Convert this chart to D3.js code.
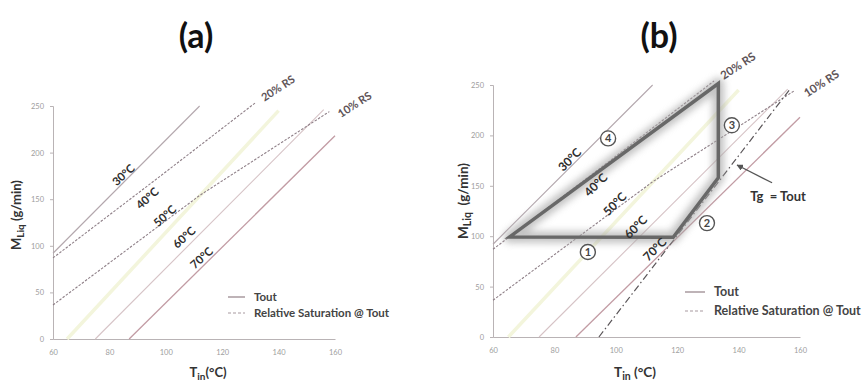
<!DOCTYPE html>
<html>
<head>
<meta charset="utf-8">
<script src="https://cdn.jsdelivr.net/npm/d3@7"></script>
<style>
  body { margin: 0; background: #fff; }
  text { font-family: Lato, "Open Sans", sans-serif; }
</style>
</head>
<body>
<div id="chart"></div>
<script>
  // values (T_in in °C, M_liq in g/min)
  var xTicks = [60, 80, 100, 120, 140, 160];
  var yTicks = [0, 50, 100, 150, 200, 250];

  var tout30 = [[60, 92], [112, 250]];
  var tout50 = [[65, 0], [140, 245]];
  var tout60 = [[75, 0], [156, 246]];
  var tout70 = [[87, 0], [160, 218]];
  var rs20 = [[60, 87], [96, 170], [132, 254]];
  var rs10 = [[60, 36.5], [112, 154], [158, 244]];
  var tgEqualsTout = [[94.5, 0], [156.5, 245]];

  var tempLabels = ["30°C", "40°C", "50°C", "60°C", "70°C"];
  var tempLabelT = [85, 93.5, 99.7, 106.5, 112.7];
  var tempLabelM = [176, 151, 132, 109, 87];
  var rsLabels = ["20% RS", "10% RS"];
  var rsLabelT = [139.8, 167];
  var rsLabelM = [269, 251.5];

  // process cycle drawn on panel (b)
  var cycle = [[65.4, 99.3], [118.7, 99], [133.4, 158], [133.4, 251.5]];
  var stepNames = ["1", "2", "3", "4"];
  var stepT = [90.9, 129.7, 137.8, 97.5];
  var stepM = [84.3, 113, 210, 197];

  var width = 864, height = 384;
  var svg = d3.select("#chart").append("svg")
    .attr("width", width).attr("height", height);

  var defs = svg.append("defs");
  defs.append("filter").attr("id", "glow")
    .attr("x", "-20%").attr("y", "-20%").attr("width", "140%").attr("height", "140%")
    .append("feGaussianBlur").attr("stdDeviation", 3.5);
  defs.append("marker").attr("id", "head").attr("viewBox", "0 0 10 10")
    .attr("refX", 9).attr("refY", 5).attr("markerWidth", 5).attr("markerHeight", 5)
    .attr("orient", "auto")
    .append("path").attr("d", "M0,0L10,5L0,10Z").attr("fill", "#555");

  function drawPanel(p) {
    var g = svg.append("g");
    var x = d3.scaleLinear().domain([60, 160]).range([p.left, p.right]);
    var y = d3.scaleLinear().domain([0, 250]).range([p.bottom, p.top]);
    var line = d3.line().x(d => x(d[0])).y(d => y(d[1]));

    // axes
    var ya = g.append("g").attr("transform", `translate(${p.left},0)`)
      .call(d3.axisLeft(y).tickValues(yTicks).tickSize(3).tickPadding(6));
    var xa = g.append("g").attr("transform", `translate(0,${p.bottom})`)
      .call(d3.axisBottom(x).tickValues(xTicks).tickSize(0).tickPadding(11));
    [ya, xa].forEach(a => {
      a.select(".domain").attr("stroke", "#b9b3b5");
      a.selectAll(".tick line").attr("stroke", "#b9b3b5");
      a.selectAll(".tick text").attr("fill", "#9d9d9d").style("font-size", "7.5px");
    });

    // Tout lines
    g.append("path").attr("d", line(tout50)).attr("fill", "none")
      .attr("stroke", "#f3f5dc").attr("stroke-width", 3.5);
    g.append("path").attr("d", line(tout30)).attr("fill", "none")
      .attr("stroke", "#b3a7ad").attr("stroke-width", 1.1);
    g.append("path").attr("d", line(tout60)).attr("fill", "none")
      .attr("stroke", "#d6c3c6").attr("stroke-width", 1.1);
    g.append("path").attr("d", line(tout70)).attr("fill", "none")
      .attr("stroke", "#c29ca4").attr("stroke-width", 1.3);

    // relative saturation lines
    [rs20, rs10].forEach(d => {
      g.append("path").attr("d", line(d)).attr("fill", "none")
        .attr("stroke", "#8e7f87").attr("stroke-width", 1.1)
        .attr("stroke-dasharray", "2.5,1.5");
    });

    if (p.cycle) {
      g.append("path").attr("d", line(tgEqualsTout)).attr("fill", "none")
        .attr("stroke", "#5a5558").attr("stroke-width", 1.2)
        .attr("stroke-dasharray", "7,3,1.5,3");

      var poly = line(cycle) + "Z";
      g.append("path").attr("d", poly).attr("fill", "none")
        .attr("stroke", "#a5a5a5").attr("stroke-width", 12).attr("opacity", 0.65)
        .attr("stroke-linejoin", "round").attr("filter", "url(#glow)");
      g.append("path").attr("d", poly).attr("fill", "none")
        .attr("stroke", "#686868").attr("stroke-width", 3.5)
        .attr("stroke-linejoin", "miter");

      stepNames.forEach((s, i) => {
        var cx = x(stepT[i]), cy = y(stepM[i]);
        g.append("circle").attr("cx", cx).attr("cy", cy).attr("r", 7.5)
          .attr("fill", "#fff").attr("stroke", "#555").attr("stroke-width", 1.4);
        g.append("text").attr("x", cx).attr("y", cy + 3.8)
          .attr("text-anchor", "middle").attr("fill", "#444")
          .style("font-size", "11px").style("font-weight", "bold").text(s);
      });

      // arrow to the Tg = Tout line
      g.append("line")
        .attr("x1", x(150.9)).attr("y1", y(153)).attr("x2", x(139.5)).attr("y2", y(170.6))
        .attr("stroke", "#555").attr("stroke-width", 1.3).attr("marker-end", "url(#head)");
      g.append("text").attr("x", x(143.8)).attr("y", y(135))
        .attr("fill", "#333").style("font-size", "13px").style("font-weight", "bold")
        .attr("xml:space", "preserve").text("Tg  = Tout");
    }

    // line labels
    tempLabels.forEach((s, i) => {
      g.append("text")
        .attr("transform", `translate(${x(tempLabelT[i])},${y(tempLabelM[i])}) rotate(${p.angle})`)
        .attr("text-anchor", "middle").attr("dy", "0.35em")
        .attr("fill", "#2e2e2e").style("font-size", p.lab + "px").style("font-weight", "bold")
        .text(s);
    });
    rsLabels.forEach((s, i) => {
      g.append("text")
        .attr("transform", `translate(${x(rsLabelT[i])},${y(rsLabelM[i])}) rotate(-33)`)
        .attr("text-anchor", "middle").attr("dy", "0.35em")
        .attr("fill", "#5e5357").style("font-size", (p.lab - 0.5) + "px").style("font-weight", "bold")
        .text(s);
    });

    // legend
    var lg = g.append("g").attr("transform", `translate(${p.legX},${p.legY})`);
    lg.append("line").attr("x1", 0).attr("x2", p.legLen).attr("y1", 0).attr("y2", 0)
      .attr("stroke", "#9b8a90").attr("stroke-width", 1.3);
    lg.append("line").attr("x1", 0).attr("x2", p.legLen).attr("y1", p.legGap).attr("y2", p.legGap)
      .attr("stroke", "#a89aa0").attr("stroke-width", 1.1).attr("stroke-dasharray", "3,2");
    lg.append("text").attr("x", p.legLen + 9).attr("y", 4)
      .attr("fill", "#444").style("font-size", p.legFont + "px").style("font-weight", "bold").text("Tout");
    lg.append("text").attr("x", p.legLen + 9).attr("y", p.legGap + 4)
      .attr("fill", "#444").style("font-size", p.legFont + "px").style("font-weight", "bold")
      .text("Relative Saturation @ Tout");

    // axis titles
    var yt = g.append("text")
      .attr("transform", `translate(${p.ytX},${p.ytY}) rotate(-90)`)
      .attr("text-anchor", "middle").attr("fill", "#333")
      .style("font-size", p.tf + "px").style("font-weight", "bold");
    yt.append("tspan").text("M");
    yt.append("tspan").attr("dy", 3).style("font-size", (p.tf - 3) + "px").text("Liq");
    yt.append("tspan").attr("dy", -3).attr("xml:space", "preserve").text(p.ySep + "(g/min)");

    var xt = g.append("text").attr("x", p.xtX).attr("y", p.xtY)
      .attr("text-anchor", "middle").attr("fill", "#333")
      .style("font-size", p.tf + "px").style("font-weight", "bold");
    xt.append("tspan").text("T");
    xt.append("tspan").attr("dy", 3).style("font-size", (p.tf - 3) + "px").text("in");
    xt.append("tspan").attr("dy", -3).attr("xml:space", "preserve").text(p.xSep + "(°C)");

    g.append("text").attr("x", p.titleX).attr("y", 48)
      .attr("text-anchor", "middle").attr("fill", "#111")
      .style("font-size", "34px").style("font-weight", "bold").text(p.title);
  }

  drawPanel({
    left: 53, right: 335, top: 106, bottom: 339, angle: -42, lab: 11.5,
    legX: 228, legY: 297, legLen: 17, legGap: 16, legFont: 11.5,
    ytX: 21, ytY: 215, xtX: 208, xtY: 377, tf: 13, ySep: " ", xSep: "",
    title: "(a)", titleX: 196, cycle: false
  });
  drawPanel({
    left: 493, right: 800, top: 85, bottom: 337, angle: -45, lab: 12,
    legX: 685, legY: 292, legLen: 20, legGap: 19, legFont: 12.5,
    ytX: 468, ytY: 201, xtX: 635, xtY: 377, tf: 13.5, ySep: "  ", xSep: " ",
    title: "(b)", titleX: 659, cycle: true
  });
</script>
</body>
</html>
